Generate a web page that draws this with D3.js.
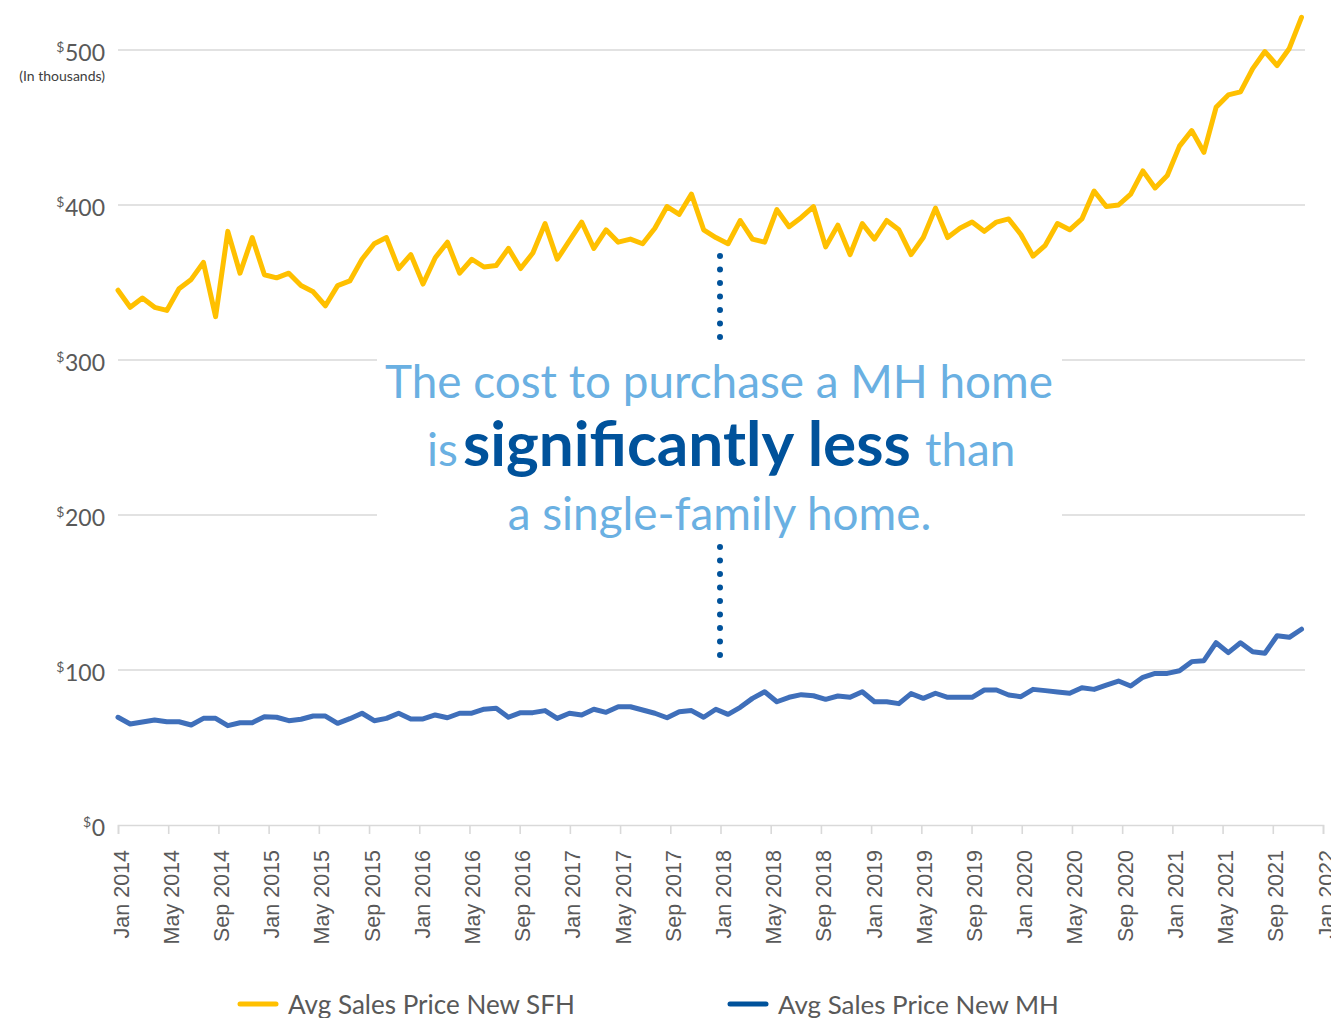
<!DOCTYPE html>
<html>
<head>
<meta charset="utf-8">
<script src="https://cdn.jsdelivr.net/npm/d3@7"></script>
<style>
  html, body { margin: 0; padding: 0; background: #fff; overflow: hidden; }
  svg { display: block; }
</style>
</head>
<body>
<script>
// ---------------- DATA ----------------
const seriesNames = ["Avg Sales Price New SFH", "Avg Sales Price New MH"];

// Monthly average sales price, thousands of dollars (98 observations)
const sfhValues = [
  345, 334, 340, 334, 332, 346, 352, 363, 328, 383,
  356, 379, 355, 353, 356, 348, 344, 335, 348, 351,
  365, 375, 379, 359, 368, 349, 366, 376, 356, 365,
  360, 361, 372, 359, 369, 388, 365, 377, 389, 372,
  384, 376, 378, 375, 385, 399, 394, 407, 384, 379,
  375, 390, 378, 376, 397, 386, 392, 399, 373, 387,
  368, 388, 378, 390, 384, 368, 379, 398, 379, 385,
  389, 383, 389, 391, 381, 367, 374, 388, 384, 391,
  409, 399, 400, 407, 422, 411, 419, 438, 448, 434,
  463, 471, 473, 488, 499, 490, 501, 521
];
const mhValues = [
  69.5, 65.2, 66.5, 67.7, 66.6, 66.6, 64.5, 68.8, 68.8, 64.1,
  66.0, 66.0, 69.9, 69.5, 67.3, 68.2, 70.3, 70.3, 65.6, 68.6,
  72.1, 67.3, 68.8, 72.1, 68.4, 68.4, 71.0, 69.2, 72.1, 72.1,
  74.7, 75.3, 69.5, 72.5, 72.5, 73.8, 68.8, 72.1, 71.0, 74.7,
  72.7, 76.3, 76.3, 74.2, 72.1, 69.2, 73.1, 73.8, 69.5, 74.7,
  71.4, 75.9, 81.7, 86.0, 79.5, 82.4, 84.1, 83.4, 81.1, 83.2,
  82.4, 86.0, 79.5, 79.5, 78.3, 84.8, 81.7, 85.0, 82.4, 82.4,
  82.4, 87.1, 87.1, 83.9, 82.8, 87.5, 86.7, 85.8, 85.0, 88.6,
  87.5, 90.3, 92.9, 89.7, 95.3, 97.8, 97.8, 99.5, 105.4, 106.0,
  117.6, 111.2, 117.6, 111.8, 110.8, 122.1, 121.1, 126.3
];

// x-axis tick labels, every 4 months from Jan 2014 to Jan 2022
const xTickLabels = [
  "Jan 2014","May 2014","Sep 2014","Jan 2015","May 2015","Sep 2015",
  "Jan 2016","May 2016","Sep 2016","Jan 2017","May 2017","Sep 2017",
  "Jan 2018","May 2018","Sep 2018","Jan 2019","May 2019","Sep 2019",
  "Jan 2020","May 2020","Sep 2020","Jan 2021","May 2021","Sep 2021",
  "Jan 2022"
];
const yTickValues = [0, 100, 200, 300, 400, 500];
const yUnitLabel = "(In thousands)";
const calloutLine1 = "The cost to purchase a MH home";
const calloutLine2 = ["is", "significantly less", "than"];
const calloutLine3 = "a single-family home.";

// ---------------- LAYOUT ----------------
const W = 1331, H = 1018;
const plotLeft = 118, axisRight = 1323, gridRight = 1305;
const yTop = 50, yBottom = 825;

const svg = d3.select("body").append("svg").attr("width", W).attr("height", H);

const y = d3.scaleLinear().domain([0, 500]).range([yBottom, yTop]);
// axis in months (96 months Jan 2014 -> Jan 2022)
const xAxisScale = d3.scaleLinear().domain([0, (xTickLabels.length - 1) * 4]).range([plotLeft, axisRight]);
// observations placed by index
const xData = d3.scaleLinear().domain([0, sfhValues.length - 1]).range([plotLeft, 1301.5]);

const gridColor = "#d9d9d9";
const textGray = "#595959";

// gridlines
svg.append("g").selectAll("line")
  .data(yTickValues.filter(v => v > 0))
  .join("line")
  .attr("x1", plotLeft).attr("x2", gridRight)
  .attr("y1", d => y(d)).attr("y2", d => y(d))
  .attr("stroke", gridColor).attr("stroke-width", 1.6);

// x axis
const xAxis = d3.axisBottom(xAxisScale)
  .tickValues(xTickLabels.map((d, i) => i * 4))
  .tickSize(9)
  .tickFormat("");
const gx = svg.append("g").attr("transform", `translate(0,${yBottom})`).call(xAxis);
gx.select(".domain").attr("stroke", gridColor).attr("stroke-width", 1.6);
gx.selectAll(".tick line").attr("stroke", gridColor).attr("stroke-width", 1.6);

svg.append("g").selectAll("text")
  .data(xTickLabels)
  .join("text")
  .attr("transform", (d, i) => `translate(${xAxisScale(i * 4) + 10.5},850) rotate(-90)`)
  .attr("text-anchor", "end")
  .attr("font-family", "'Liberation Sans', Arial, sans-serif")
  .attr("font-size", 21.5)
  .attr("fill", textGray)
  .text(d => d);

// y labels
const yLab = svg.append("g");
yTickValues.forEach(v => {
  const t = yLab.append("text")
    .attr("x", 105).attr("y", y(v) + 11)
    .attr("text-anchor", "end")
    .attr("font-family", "Lato, sans-serif")
    .attr("font-size", 23)
    .attr("fill", textGray)
    .text(v);
  const w = t.node().getComputedTextLength();
  yLab.append("text")
    .attr("x", 105 - w - 0.5).attr("y", y(v) + 2)
    .attr("text-anchor", "end")
    .attr("font-family", "Lato, sans-serif")
    .attr("font-size", 14)
    .attr("fill", textGray)
    .text("$");
});
yLab.append("text")
  .attr("x", 105).attr("y", 81)
  .attr("text-anchor", "end")
  .attr("font-family", "Lato, sans-serif")
  .attr("font-size", 14)
  .attr("fill", "#404040")
  .text(yUnitLabel);

// white callout box covering gridlines
svg.append("rect")
  .attr("x", 377).attr("y", 342).attr("width", 685).attr("height", 198)
  .attr("fill", "#fff");

// dotted connectors
const dotColor = "#00529b";
[[256, 338], [547, 658]].forEach(([a, b]) => {
  svg.append("line")
    .attr("x1", 720).attr("x2", 720).attr("y1", a).attr("y2", b)
    .attr("stroke", dotColor).attr("stroke-width", 6)
    .attr("stroke-linecap", "round")
    .attr("stroke-dasharray", "0 13.5");
});

// lines
const line = d3.line().x((d, i) => xData(i)).y(d => y(d)).curve(d3.curveLinear);
svg.append("path").datum(mhValues)
  .attr("d", line).attr("fill", "none")
  .attr("stroke", "#3f6fba").attr("stroke-width", 5)
  .attr("stroke-linejoin", "round").attr("stroke-linecap", "round");
svg.append("path").datum(sfhValues)
  .attr("d", line).attr("fill", "none")
  .attr("stroke", "#ffc000").attr("stroke-width", 5)
  .attr("stroke-linejoin", "round").attr("stroke-linecap", "round");

// callout text
const lightBlue = "#6ab0e2";
function fitText(sel, target) {
  const w = sel.node().getComputedTextLength();
  const fs = +sel.attr("font-size");
  sel.attr("font-size", fs * target / w);
  return fs * target / w;
}
const t1 = svg.append("text")
  .attr("x", 719).attr("y", 398).attr("text-anchor", "middle")
  .attr("font-family", "Lato, sans-serif").attr("font-size", 46)
  .attr("fill", lightBlue).text(calloutLine1);
const fsLight = fitText(t1, 668);

svg.append("text")
  .attr("x", 427).attr("y", 466)
  .attr("font-family", "Lato, sans-serif").attr("font-size", fsLight)
  .attr("fill", lightBlue).text(calloutLine2[0]);
const tb = svg.append("text")
  .attr("x", 463).attr("y", 466)
  .attr("font-family", "Lato, sans-serif").attr("font-weight", 700).attr("font-size", 56)
  .attr("fill", dotColor).text(calloutLine2[1]);
fitText(tb, 448);
svg.append("text")
  .attr("x", 925).attr("y", 466)
  .attr("font-family", "Lato, sans-serif").attr("font-size", fsLight)
  .attr("fill", lightBlue).text(calloutLine2[2]);

svg.append("text")
  .attr("x", 719.5).attr("y", 530).attr("text-anchor", "middle")
  .attr("font-family", "Lato, sans-serif").attr("font-size", fsLight)
  .attr("fill", lightBlue).text(calloutLine3);

// legend
const legend = [
  { name: seriesNames[0], color: "#ffc000", x: 238, target: 287 },
  { name: seriesNames[1], color: "#00529b", x: 728, target: 281 }
];
legend.forEach(l => {
  svg.append("line")
    .attr("x1", l.x + 2).attr("x2", l.x + 38).attr("y1", 1004).attr("y2", 1004)
    .attr("stroke", l.color).attr("stroke-width", 5).attr("stroke-linecap", "round");
  const t = svg.append("text")
    .attr("x", l.x + 50).attr("y", 1014)
    .attr("font-family", "Lato, sans-serif").attr("font-size", 27)
    .attr("fill", textGray).text(l.name);
  fitText(t, l.target);
});
</script>
</body>
</html>
